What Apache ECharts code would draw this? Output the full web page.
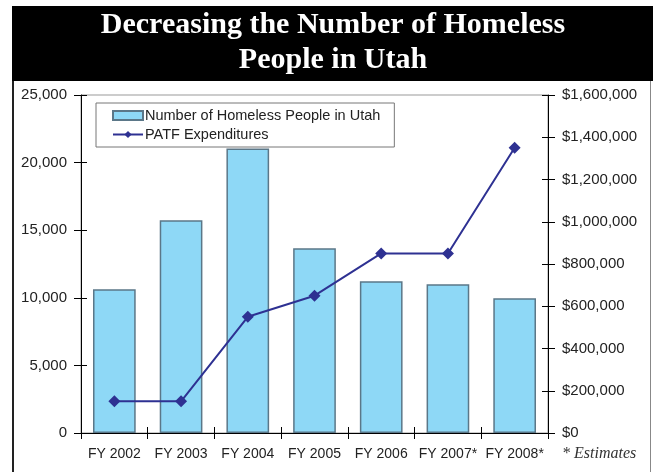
<!DOCTYPE html>
<html>
<head>
<meta charset="utf-8">
<script src="https://cdn.jsdelivr.net/npm/echarts@6/dist/echarts.min.js"></script>
<style>
  html, body { margin: 0; padding: 0; background: #fff; }
  #chart { width: 653px; height: 472px; }
</style>
</head>
<body>
<div id="chart"></div>
<script>
const years = ['FY 2002', 'FY 2003', 'FY 2004', 'FY 2005', 'FY 2006', 'FY 2007*', 'FY 2008*']
const homeless = [10630, 15730, 21050, 13660, 11220, 11000, 9960]
const expenditures = [150000, 150000, 550000, 650000, 850000, 850000, 1350000]

const money = v => '$' + v.toLocaleString('en-US')
const count = v => v.toLocaleString('en-US')

// inner half of the crossing ticks
const innerTicks = { show: true, inside: true, length: 6, lineStyle: { color: '#000' } }

const chart = echarts.init(document.getElementById('chart'))
chart.setOption({
    animation: false,
    textStyle: { fontFamily: 'Liberation Sans, Arial, sans-serif' },
    graphic: [
        { type: 'rect', shape: { x: 12, y: 6, width: 641, height: 75 }, style: { fill: '#000' } },
        { type: 'rect', shape: { x: 12, y: 81, width: 2, height: 391 }, style: { fill: '#222' } },
        { type: 'rect', shape: { x: 650, y: 81, width: 1, height: 391 }, style: { fill: '#888' } },
        {
            type: 'text', x: 333, y: 8,
            style: {
                text: 'Decreasing the Number of Homeless\nPeople in Utah',
                fill: '#fff', font: 'bold 30px "Liberation Serif", serif',
                align: 'center', lineHeight: 35
            }
        },
        {
            type: 'text', left: 562, top: 446,
            style: { text: '* Estimates', fill: '#333', font: 'italic 16px "Liberation Serif", serif' }
        }
    ],
    grid: {
        left: 81, right: 105, top: 95, bottom: 39,
        show: true, borderColor: '#999', borderWidth: 1
    },
    legend: {
        orient: 'vertical', left: 96, top: 103,
        padding: [5, 14, 5, 16],
        backgroundColor: '#fff', borderColor: '#777', borderWidth: 1, borderRadius: 0,
        itemWidth: 30, itemHeight: 9, itemGap: 4,
        textStyle: { fontSize: 14.5, color: '#222', padding: [0, 0, 0, -3] },
        data: [
            { name: 'Number of Homeless People in Utah', icon: 'rect' },
            { name: 'PATF Expenditures' }
        ]
    },
    xAxis: [
        {
            type: 'category', data: years,
            axisLine: { lineStyle: { color: '#000' } },
            axisTick: { show: true, length: 6, lineStyle: { color: '#000' } },
            axisLabel: { color: '#222', fontSize: 14, margin: 14, interval: 0 }
        },
        {
            type: 'category', data: years, position: 'bottom',
            axisLine: { show: false }, axisTick: innerTicks, axisLabel: { show: false }
        }
    ],
    yAxis: [
        {
            type: 'value', min: 0, max: 25000, interval: 5000,
            axisLine: { show: true, lineStyle: { color: '#000' } },
            axisTick: { show: true, length: 7, lineStyle: { color: '#000' } },
            splitLine: { show: false },
            axisLabel: { color: '#222', fontSize: 15, margin: 14, formatter: count }
        },
        {
            type: 'value', min: 0, max: 1600000, interval: 200000,
            axisLine: { show: true, lineStyle: { color: '#000' } },
            axisTick: { show: true, length: 7, lineStyle: { color: '#000' } },
            splitLine: { show: false },
            axisLabel: { color: '#222', fontSize: 15, margin: 14, formatter: money }
        },
        {
            type: 'value', min: 0, max: 25000, interval: 5000, position: 'left',
            axisLine: { show: false }, axisTick: innerTicks,
            axisLabel: { show: false }, splitLine: { show: false }
        },
        {
            type: 'value', min: 0, max: 1600000, interval: 200000, position: 'right',
            axisLine: { show: false }, axisTick: innerTicks,
            axisLabel: { show: false }, splitLine: { show: false }
        }
    ],
    series: [
        {
            name: 'Number of Homeless People in Utah', type: 'bar', data: homeless,
            barWidth: '64%', z: 1,
            itemStyle: { color: '#8ED8F6', borderColor: '#5b7788', borderWidth: 1.5 }
        },
        {
            name: 'PATF Expenditures', type: 'line', yAxisIndex: 1, data: expenditures,
            symbol: 'diamond', symbolSize: 12, z: 3,
            lineStyle: { color: '#2E3192', width: 2 },
            itemStyle: { color: '#2E3192' }
        }
    ]
})
</script>
</body>
</html>
